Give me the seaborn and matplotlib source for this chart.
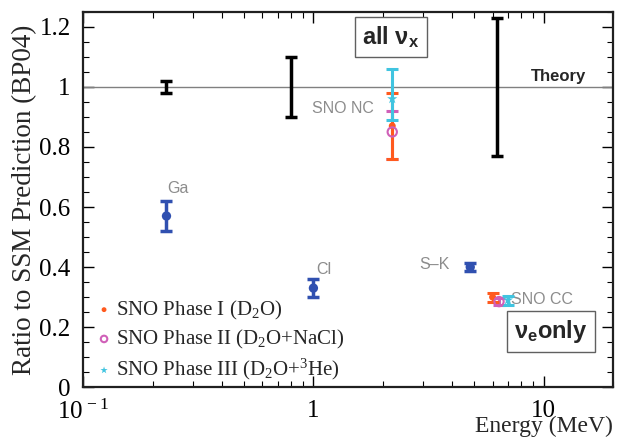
import matplotlib
matplotlib.use("Agg", force=True)
import matplotlib.pyplot as plt
from matplotlib.ticker import MultipleLocator, FixedLocator, FixedFormatter, LogLocator, NullFormatter
import numpy as np
import pandas as pd
import seaborn as sns

# theory (SSM BP04) uncertainty bars
theory_energy = [0.23, 0.80, 6.3]
theory_ratio = [1.0, 1.0, 1.0]
theory_err = [0.02, 0.10, 0.23]

# radiochemical / water Cherenkov experiments
exp_names = ["Ga", "Cl", "S-K"]
exp_energy = [0.23, 1.0, 4.8]
exp_ratio = [0.57, 0.33, 0.40]
exp_err = [0.05, 0.03, 0.013]

# SNO phases
sno_phases = ["SNO Phase I (D$_2$O)", "SNO Phase II (D$_2$O+NaCl)", "SNO Phase III (D$_2$O+$^3$He)"]
nc_energy = [2.2, 2.2, 2.2]
nc_ratio = [0.87, 0.85, 0.96]
nc_err_lo = [0.11, 0.09, 0.07]
nc_err_hi = [0.11, 0.07, 0.10]
cc_energy = [6.0, 6.4, 7.0]
cc_ratio = [0.30, 0.285, 0.29]
cc_err = [0.015, 0.012, 0.015]

phase_colors = ["#ff5a1e", "#d060b8", "#40c4e0"]
phase_markers = ["o", "o", "*"]
phase_z = [5, 4, 6]

sns.set_theme(style="ticks")
plt.rcParams["font.family"] = ["Liberation Serif", "DejaVu Serif"]
plt.rcParams["mathtext.fontset"] = "custom"
plt.rcParams["mathtext.rm"] = "Liberation Serif"
plt.rcParams["mathtext.it"] = "Liberation Serif:italic"
plt.rcParams["mathtext.bf"] = "Liberation Sans:bold"

fig = plt.figure(figsize=(6.21, 4.38), dpi=100)
ax = fig.add_axes([0.134, 0.116, 0.853, 0.857])
ax.set_xscale("log")
ax.set_xlim(0.1, 20)
ax.set_ylim(0, 1.25)

ax.axhline(1.0, color="#808080", lw=1.0, zorder=1)

ax.errorbar(theory_energy, theory_ratio, yerr=theory_err, fmt="none", ecolor="black",
            elinewidth=2.5, capsize=4, capthick=2.5, zorder=3)

exp_df = pd.DataFrame({"energy": exp_energy, "ratio": exp_ratio, "name": exp_names})
ax.errorbar(exp_energy, exp_ratio, yerr=exp_err, fmt="none", ecolor="#3050b0",
            elinewidth=2.5, capsize=4, capthick=2.5, zorder=3)
sns.scatterplot(data=exp_df, x="energy", y="ratio", color="#3050b0", s=45,
                edgecolor="none", ax=ax, zorder=4, legend=False)

sno_df = pd.DataFrame({
    "phase": sno_phases * 2,
    "energy": nc_energy + cc_energy,
    "ratio": nc_ratio + cc_ratio,
})
for i, phase in enumerate(sno_phases):
    col = phase_colors[i]
    ax.errorbar([nc_energy[i]], [nc_ratio[i]], yerr=[[nc_err_lo[i]], [nc_err_hi[i]]], fmt="none",
                ecolor=col, elinewidth=2.2, capsize=4, capthick=2.2, zorder=phase_z[i])
    ax.errorbar([cc_energy[i]], [cc_ratio[i]], yerr=[cc_err[i]], fmt="none",
                ecolor=col, elinewidth=2.2, capsize=4, capthick=2.2, zorder=phase_z[i])
    sub = sno_df[sno_df["phase"] == phase]
    if i == 1:
        sns.scatterplot(data=sub, x="energy", y="ratio", marker="o", s=45, facecolor="none",
                        edgecolor=col, linewidth=1.5, ax=ax, zorder=7, label=phase)
    else:
        sns.scatterplot(data=sub, x="energy", y="ratio", marker=phase_markers[i],
                        s=25 if i == 0 else 60, color=col, edgecolor="none", ax=ax,
                        zorder=7, label=phase)

gray = "#8c8c8c"
sans = ["Liberation Sans", "DejaVu Sans"]
lab = dict(color=gray, family=sans, fontsize=11.5, ha="center", va="center")
ax.text(0.257, 0.663, "Ga", **lab)
ax.text(1.11, 0.393, "Cl", **lab)
ax.text(3.36, 0.407, "S\u2013K", **lab)
ax.text(1.35, 0.927, "SNO NC", **lab)
ax.text(9.8, 0.293, "SNO CC", **lab)
ax.text(11.6, 1.035, "Theory", family=sans, fontsize=12, fontweight="bold", ha="center", va="center")

box = dict(boxstyle="square,pad=0.3", facecolor="white", edgecolor="#606060", linewidth=1.0)
ax.text(0.581, 0.933, "all \u03bd$_\\mathbf{x}$", transform=ax.transAxes, ha="center", va="center",
        fontsize=17, fontweight="bold", family=sans, bbox=box)
ax.text(0.883, 0.149, "\u03bd$_\\mathbf{e}$only", transform=ax.transAxes, ha="center", va="center",
        fontsize=17, fontweight="bold", family=sans, bbox=box)

ax.legend(loc="lower left", frameon=False, fontsize=15, handletextpad=0.05,
          borderaxespad=0.1, labelspacing=0.3, markerscale=0.7, handlelength=1.0,
          bbox_to_anchor=(0.0, -0.015))

ax.xaxis.set_major_locator(FixedLocator([0.1, 1, 10]))
ax.xaxis.set_major_formatter(FixedFormatter([r"$10^{\,-1}$", "1", "10"]))
ax.xaxis.set_minor_locator(LogLocator(base=10, subs=np.arange(2, 10)))
ax.xaxis.set_minor_formatter(NullFormatter())
ax.yaxis.set_major_locator(MultipleLocator(0.2))
ax.yaxis.set_minor_locator(MultipleLocator(0.05))
ax.yaxis.set_major_formatter(plt.FuncFormatter(lambda v, p: f"{v:g}"))
ax.tick_params(which="both", direction="in", top=True, right=True, labelsize=18, colors="black")
ax.tick_params(which="major", length=8, width=1.0, pad=9)
ax.tick_params(which="minor", length=4, width=0.8)
for s in ax.spines.values():
    s.set_linewidth(1.6)
    s.set_color("#202020")

ax.set_ylabel("Ratio to SSM Prediction (BP04)", fontsize=19.5, labelpad=2)
ax.set_xlabel("Energy (MeV)", fontsize=17, loc="right", labelpad=-6)

fig.savefig("out.png", dpi=100)
